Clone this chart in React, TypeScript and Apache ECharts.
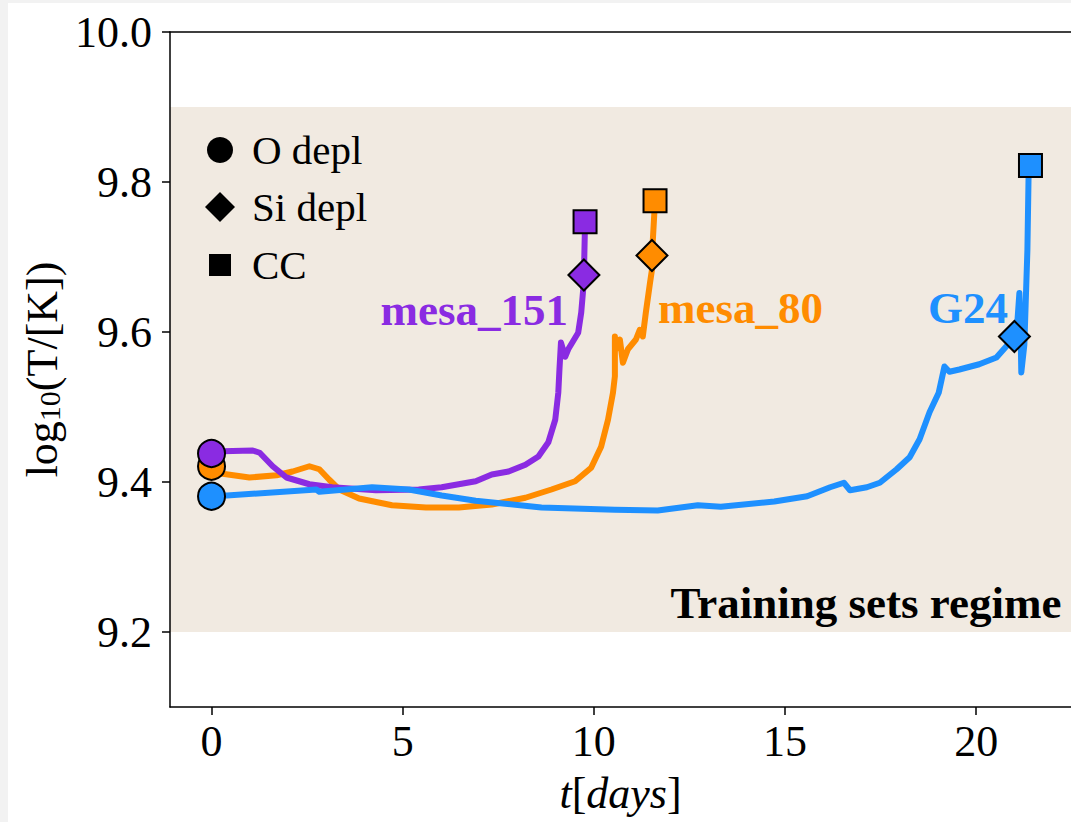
import React, { useEffect, useRef } from "react";
import * as echarts from "echarts";

// ---------- data ----------
const xTicks = [0, 5, 10, 15, 20];
const yTicks = [9.2, 9.4, 9.6, 9.8, 10.0];
const regimeRange = [9.2, 9.9];

const seriesNames = ["mesa_80", "mesa_151", "G24"];
const seriesColors = ["#ff8c00", "#8a2be2", "#1e90ff"];

const mesa80T = [0, 0.29, 0.99, 1.7, 2.12, 2.56, 2.82, 3.08, 3.34, 3.86, 4.72, 5.61, 6.47, 7.33, 8.21, 8.89, 9.51, 9.93, 10.19, 10.37, 10.5, 10.55, 10.55, 10.58, 10.68, 10.76, 10.89, 11.1, 11.2, 11.28, 11.36, 11.47, 11.52, 11.52, 11.6];
const mesa80Y = [9.421, 9.411, 9.406, 9.409, 9.414, 9.421, 9.417, 9.403, 9.39, 9.378, 9.369, 9.366, 9.366, 9.37, 9.379, 9.39, 9.401, 9.419, 9.447, 9.483, 9.519, 9.541, 9.594, 9.577, 9.59, 9.559, 9.577, 9.59, 9.603, 9.594, 9.626, 9.666, 9.683, 9.702, 9.775];

const mesa151T = [0, 0.29, 1.08, 1.26, 1.6, 1.96, 2.56, 3.16, 4.3, 5.42, 6.02, 6.91, 7.33, 7.77, 8.21, 8.55, 8.81, 8.99, 9.07, 9.1, 9.14, 9.25, 9.33, 9.59, 9.67, 9.72, 9.74, 9.77];
const mesa151Y = [9.438, 9.441, 9.442, 9.439, 9.421, 9.406, 9.397, 9.393, 9.389, 9.39, 9.393, 9.401, 9.41, 9.414, 9.423, 9.434, 9.453, 9.483, 9.519, 9.55, 9.586, 9.567, 9.577, 9.599, 9.626, 9.656, 9.676, 9.747];

const g24T = [0, 0.4, 2.74, 2.82, 4.2, 5.16, 6.02, 6.91, 8.63, 10.55, 11.67, 12.72, 13.32, 14.72, 15.58, 16.18, 16.54, 16.7, 17.14, 17.48, 17.92, 18.26, 18.52, 18.78, 19.02, 19.17, 19.3, 19.56, 20.08, 20.53, 20.79, 21.0, 21.06, 21.13, 21.16, 21.18, 21.26, 21.34, 21.37, 21.42];
const g24Y = [9.381, 9.382, 9.39, 9.387, 9.393, 9.39, 9.382, 9.375, 9.366, 9.363, 9.362, 9.369, 9.367, 9.374, 9.381, 9.393, 9.399, 9.389, 9.393, 9.399, 9.417, 9.433, 9.457, 9.493, 9.519, 9.554, 9.547, 9.55, 9.557, 9.566, 9.581, 9.594, 9.601, 9.652, 9.603, 9.546, 9.583, 9.71, 9.807, 9.822];

// markers (order: mesa_80, mesa_151, G24)
const oDeplT = [0, 0, 0];
const oDeplY = [9.421, 9.438, 9.381];
const siDeplT = [11.52, 9.74, 21.0];
const siDeplY = [9.702, 9.676, 9.594];
const ccT = [11.6, 9.77, 21.42];
const ccY = [9.775, 9.747, 9.822];

const legendLabels = ["O depl", "Si depl", "CC"];
const regimeLabel = "Training sets regime";

// ---------- styling ----------
const FONT = '"Liberation Serif", "Times New Roman", Times, serif';

function pairs(t: number[], y: number[]) {
  return t.map((v, i) => [v, y[i]]);
}

function markerData(t: number[], y: number[]) {
  return t.map((v, i) => ({
    value: [v, y[i]],
    itemStyle: { color: seriesColors[i], borderColor: "#000", borderWidth: 2, opacity: 1 },
  }));
}

export default function App() {
  const ref = useRef<HTMLDivElement>(null);

  useEffect(() => {
    if (!ref.current) return;
    const chart = echarts.init(ref.current, undefined, { renderer: "svg" });

    const lineData = [pairs(mesa80T, mesa80Y), pairs(mesa151T, mesa151Y), pairs(g24T, g24Y)];

    const lineSeries = lineData.map((d, i) => ({
      name: seriesNames[i],
      type: "line",
      data: d,
      showSymbol: false,
      symbol: "none",
      z: 3,
      lineStyle: { color: seriesColors[i], width: 6, cap: "round", join: "round", opacity: 1 },
      silent: true,
    }));

    const axisText = { fontFamily: FONT, fontSize: 44, color: "#000" };

    const option: any = {
      animation: false,
      backgroundColor: "#ffffff",
      grid: { left: 162, top: 29, width: 905, height: 675, containLabel: false },
      xAxis: [
        {
          type: "value",
          min: -1.086,
          max: 22.48,
          z: 10,
          axisLine: { show: true, onZero: false, lineStyle: { color: "#000", width: 1.5 } },
          axisTick: { show: true, customValues: xTicks, length: 8, lineStyle: { color: "#000", width: 1.5 } },
          axisLabel: { customValues: xTicks, margin: 12, ...axisText },
          splitLine: { show: false },
          name: "{i|t}[{i|days}]",
          nameLocation: "middle",
          nameGap: 64,
          nameTextStyle: {
            ...axisText,
            rich: { i: { fontFamily: FONT, fontSize: 44, fontStyle: "italic", color: "#000" } },
          },
        },
        {
          type: "value",
          position: "top",
          min: -1.086,
          max: 22.48,
          z: 10,
          axisLine: { show: true, onZero: false, lineStyle: { color: "#000", width: 1.5 } },
          axisTick: { show: false },
          axisLabel: { show: false },
          splitLine: { show: false },
        },
      ],
      yAxis: {
        type: "value",
        min: 9.1,
        max: 10.0,
        z: 10,
        axisLine: { show: true, onZero: false, lineStyle: { color: "#000", width: 1.5 } },
        axisTick: { show: true, customValues: yTicks, length: 8, lineStyle: { color: "#000", width: 1.5 } },
        axisLabel: {
          customValues: yTicks,
          margin: 18,
          formatter: (v: number) => v.toFixed(1),
          ...axisText,
        },
        splitLine: { show: false },
        name: "log{s|10}(T/[K])",
        nameLocation: "middle",
        nameRotate: 90,
        nameGap: 106,
        nameTextStyle: {
          ...axisText,
          rich: {
            s: { fontFamily: FONT, fontSize: 30, color: "#000", verticalAlign: "bottom", lineHeight: 38 },
          },
        },
      },
      series: [
        {
          name: "regime",
          type: "line",
          data: [],
          z: 1,
          silent: true,
          markArea: {
            silent: true,
            itemStyle: { color: "#f1eae1", opacity: 1 },
            data: [[{ yAxis: regimeRange[0] }, { yAxis: regimeRange[1] }]],
          },
        },
        ...lineSeries,
        {
          name: "O depl",
          type: "scatter",
          symbol: "circle",
          symbolSize: 27,
          z: 5,
          silent: true,
          itemStyle: { opacity: 1 },
          data: markerData(oDeplT, oDeplY),
        },
        {
          name: "Si depl",
          type: "scatter",
          symbol: "diamond",
          symbolSize: 31,
          z: 5,
          silent: true,
          itemStyle: { opacity: 1 },
          data: markerData(siDeplT, siDeplY),
        },
        {
          name: "CC",
          type: "scatter",
          symbol: "rect",
          symbolSize: 23,
          z: 5,
          silent: true,
          itemStyle: { opacity: 1 },
          data: markerData(ccT, ccY),
        },
      ],
      graphic: [
        // legend markers
        { type: "circle", shape: { cx: 212, cy: 147, r: 13 }, style: { fill: "#000" }, z: 20 },
        {
          type: "polygon",
          shape: { points: [[212, 189], [227, 204], [212, 219], [197, 204]] },
          style: { fill: "#000" },
          z: 20,
        },
        { type: "rect", shape: { x: 201, y: 251, width: 22, height: 22 }, style: { fill: "#000" }, z: 20 },
        ...legendLabels.map((t, i) => ({
          type: "text",
          x: 244,
          y: [147, 204, 262][i],
          z: 20,
          style: { text: t, fontFamily: FONT, fontSize: 41, fill: "#000", align: "left", verticalAlign: "middle" },
        })),
        // series labels
        {
          type: "text",
          x: 560,
          y: 307,
          z: 20,
          style: { text: seriesNames[1], fontFamily: FONT, fontSize: 45, fontWeight: "bold", fill: seriesColors[1], align: "right", verticalAlign: "middle" },
        },
        {
          type: "text",
          x: 650,
          y: 305,
          z: 20,
          style: { text: seriesNames[0], fontFamily: FONT, fontSize: 45, fontWeight: "bold", fill: seriesColors[0], align: "left", verticalAlign: "middle" },
        },
        {
          type: "text",
          x: 920,
          y: 305,
          z: 20,
          style: { text: seriesNames[2], fontFamily: FONT, fontSize: 45, fontWeight: "bold", fill: seriesColors[2], align: "left", verticalAlign: "middle" },
        },
        {
          type: "text",
          x: 858,
          y: 600,
          z: 20,
          style: { text: regimeLabel, fontFamily: FONT, fontSize: 45, fontWeight: "bold", fill: "#000", align: "center", verticalAlign: "middle" },
        },
      ],
    };

    chart.setOption(option);
    return () => chart.dispose();
  }, []);

  return (
    <div style={{ position: "absolute", left: 0, top: 0, width: 1071, height: 822, background: "#f2f2f2", overflow: "hidden" }}>
      <div style={{ position: "absolute", left: 8, top: 3, width: 1063, height: 819, background: "#fff" }}>
        <div ref={ref} style={{ width: 1063, height: 819 }} />
      </div>
    </div>
  );
}
